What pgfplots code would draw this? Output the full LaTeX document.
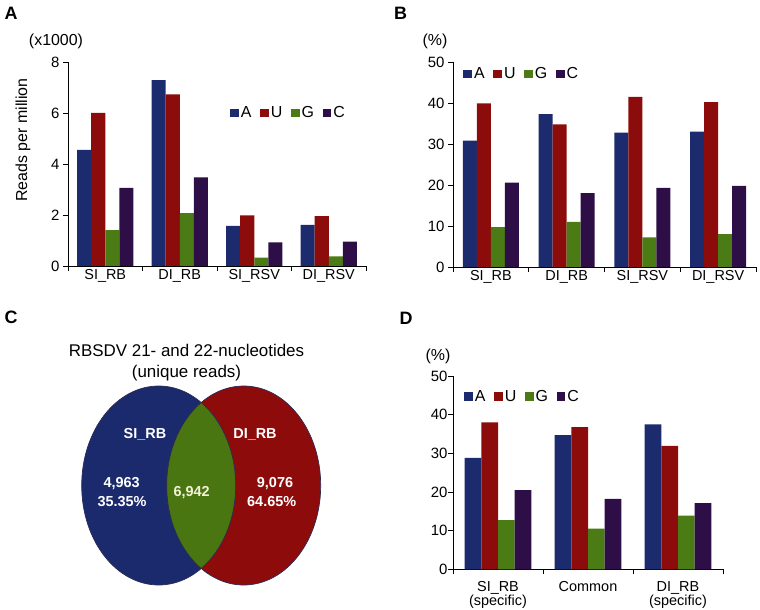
\documentclass[border=0pt]{standalone}
\usepackage{fontspec}
\setmainfont{Liberation Sans}
\usepackage{pgfplots}
\pgfplotsset{compat=1.18}
\definecolor{cA}{HTML}{1C2B6E}
\definecolor{cU}{HTML}{8C0C0C}
\definecolor{cG}{HTML}{4B7B14}
\definecolor{cC}{HTML}{2E0E47}
\definecolor{vB}{HTML}{1A2A6C}
\definecolor{vR}{HTML}{8E0B0B}
\definecolor{vG}{HTML}{4A7612}
\definecolor{vO}{HTML}{2B2B55}
\pgfplotsset{
  sqlegend/.style={legend image code/.code={\fill[##1] (0bp,-4.4bp) rectangle (8.8bp,4.4bp);}},
  barpanel/.style={
    scale only axis, anchor=south west,
    axis lines=left, axis line style={-, line width=0.9bp, black},
    ybar=0pt, ymin=0,
    tick align=outside,
    major tick length=5bp,
    tick style={black, line width=0.9bp},
    /pgf/number format/assume math mode=true,
    xticklabel style={font=\fontsize{14.5}{14}\selectfont},
    yticklabel style={font=\fontsize{15}{15}\selectfont},
    xticklabels={,,,,,,},
    extra x tick style={major tick length=0pt},
    legend columns=4,
    legend style={draw=none, fill=none, inner sep=0pt, outer sep=0pt,
      font=\fontsize{16}{16}\selectfont, anchor=west,
      nodes={inner sep=0pt},
      /tikz/every odd column/.append style={column sep=2bp},
      /tikz/every even column/.append style={column sep=8.5bp}},
    every axis plot post/.append style={sqlegend, draw=none},
    clip=false,
  }
}
\begin{document}
\begin{tikzpicture}
\path[use as bounding box] (0,0) rectangle (760bp,610bp);

% ---------- Panel A ----------
\begin{axis}[barpanel,
  at={(68bp,344bp)}, width=298bp, height=204bp,
  xmin=-0.5, xmax=3.5, ymax=8, ytick={0,2,4,6,8},
  bar width=0.188,
  xtick={-0.5,0.5,1.5,2.5,3.5},
  extra x ticks={0,1,2,3},
  extra x tick labels={SI\_RB,DI\_RB,SI\_RSV,DI\_RSV},
  legend style={at={(0.544,0.75)}},
]
\addplot[fill=cA] coordinates {(0,4.55) (1,7.29) (2,1.57) (3,1.61)};
\addplot[fill=cU] coordinates {(0,6.00) (1,6.73) (2,1.99) (3,1.96)};
\addplot[fill=cG] coordinates {(0,1.41) (1,2.07) (2,0.33) (3,0.38)};
\addplot[fill=cC] coordinates {(0,3.06) (1,3.48) (2,0.93) (3,0.96)};
\legend{A,U,G,C}
\end{axis}

% ---------- Panel B ----------
\begin{axis}[barpanel,
  at={(453bp,343bp)}, width=303bp, height=205bp,
  xmin=-0.5, xmax=3.5, ymax=50, ytick={0,10,20,30,40,50},
  bar width=0.185,
  xtick={-0.5,0.5,1.5,2.5,3.5},
  extra x ticks={0,1,2,3},
  extra x tick labels={SI\_RB,DI\_RB,SI\_RSV,DI\_RSV},
  legend style={at={(0.034,0.941)}},
]
\addplot[fill=cA] coordinates {(0,30.8) (1,37.3) (2,32.8) (3,33.0)};
\addplot[fill=cU] coordinates {(0,39.9) (1,34.8) (2,41.5) (3,40.2)};
\addplot[fill=cG] coordinates {(0,9.7) (1,11.0) (2,7.2) (3,8.0)};
\addplot[fill=cC] coordinates {(0,20.6) (1,18.0) (2,19.3) (3,19.8)};
\legend{A,U,G,C}
\end{axis}

% ---------- Panel D ----------
\begin{axis}[barpanel,
  at={(453bp,40.7bp)}, width=270bp, height=193.3bp,
  xmin=-0.5, xmax=2.5, ymax=50, ytick={0,10,20,30,40,50},
  bar width=0.185,
  xtick={-0.5,0.5,1.5,2.5},
  extra x ticks={0,1,2},
  extra x tick labels={{SI\_RB\\[-0.5bp](specific)},Common,{DI\_RB\\[-0.5bp](specific)}},
  extra x tick style={xticklabel style={align=center, yshift=-9bp}},
  yticklabel style={xshift=3bp},
  legend style={at={(0.041,0.893)}},
]
\addplot[fill=cA] coordinates {(0,28.8) (1,34.7) (2,37.5)};
\addplot[fill=cU] coordinates {(0,38.0) (1,36.8) (2,31.9)};
\addplot[fill=cG] coordinates {(0,12.7) (1,10.5) (2,13.9)};
\addplot[fill=cC] coordinates {(0,20.5) (1,18.2) (2,17.1)};
\legend{A,U,G,C}
\end{axis}

% ---------- Panel C (Venn) and free text, in image pixel coordinates ----------
\begin{axis}[at={(0bp,0bp)}, anchor=south west, scale only axis,
  width=760bp, height=610bp, xmin=0, xmax=760, ymin=0, ymax=610,
  y dir=reverse, hide axis, clip=false]
\fill[vB] (axis cs:158.7,485.5) ellipse [x radius=77bp, y radius=99.5bp];
\fill[vR] (axis cs:243.7,485.5) ellipse [x radius=77bp, y radius=99.5bp];
\begin{scope}
\clip (axis cs:158.7,485.5) ellipse [x radius=77bp, y radius=99.5bp];
\fill[vG] (axis cs:243.7,485.5) ellipse [x radius=77bp, y radius=99.5bp];
\end{scope}
\draw[vO, line width=0.7bp] (axis cs:158.7,485.5) ellipse [x radius=77bp, y radius=99.5bp];
\draw[vO, line width=0.7bp] (axis cs:243.7,485.5) ellipse [x radius=77bp, y radius=99.5bp];

\node[anchor=base, font=\fontsize{17}{20}\selectfont, inner sep=0pt] at (axis cs:186.5,356.7) {RBSDV 21- and 22-nucleotides};
\node[anchor=base, font=\fontsize{17}{20}\selectfont, inner sep=0pt] at (axis cs:186.5,377.4) {(unique reads)};

\begin{scope}[every node/.style={text=white, inner sep=0pt, font=\bfseries\fontsize{14.5}{15}\selectfont}]
\node at (axis cs:145,434.3) {SI\_RB};
\node at (axis cs:255,434.3) {DI\_RB};
\node at (axis cs:121.7,484) {4,963};
\node at (axis cs:122,502) {35.35\%};
\node[text={rgb,255:red,242;green,242;blue,214}] at (axis cs:191.7,492.3) {6,942};
\node at (axis cs:275,484) {9,076};
\node at (axis cs:271.7,502) {64.65\%};
\end{scope}

\begin{scope}[every node/.style={inner sep=0pt, font=\bfseries\fontsize{18}{18}\selectfont}]
\node at (axis cs:11,13.5) {A};
\node at (axis cs:400.5,13.5) {B};
\node at (axis cs:11,317.5) {C};
\node at (axis cs:406,318.5) {D};
\end{scope}

\begin{scope}[every node/.style={inner sep=0pt, font=\fontsize{16}{16}\selectfont}]
\node at (axis cs:56,41) {(x1000)};
\node at (axis cs:435,41.7) {(\%)};
\node at (axis cs:438,356.7) {(\%)};
\node[rotate=90] at (axis cs:23,140) {Reads per million};
\end{scope}
\end{axis}
\end{tikzpicture}
\end{document}
